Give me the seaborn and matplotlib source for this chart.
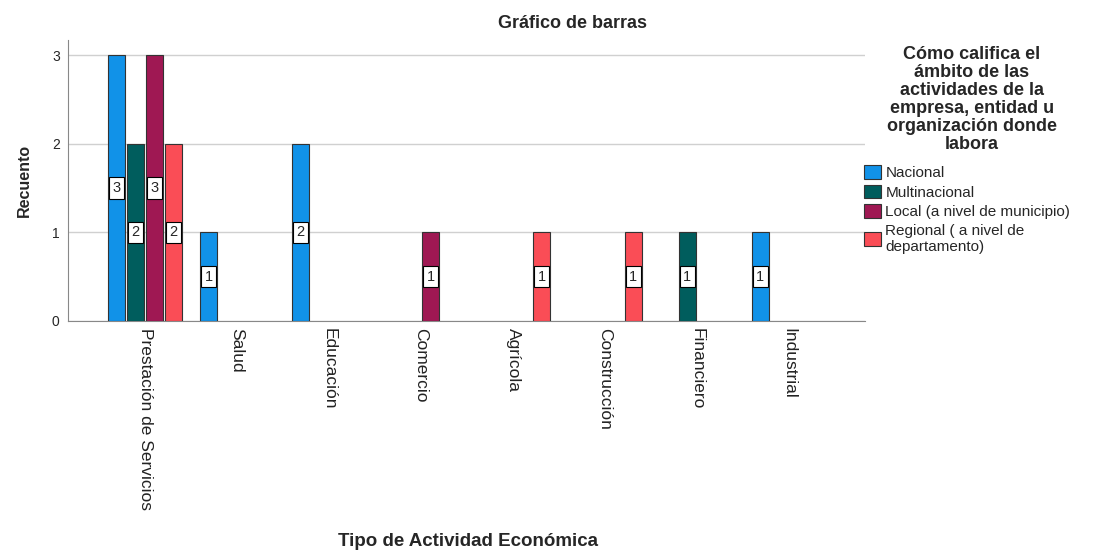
import pandas as pd
import seaborn as sns
import matplotlib.pyplot as plt

# categorias del eje x y niveles del grafico
categorias = ["Prestación de Servicios", "Salud", "Educación", "Comercio",
              "Agrícola", "Construcción", "Financiero", "Industrial"]
ambitos = ["Nacional", "Multinacional", "Local (a nivel de municipio)",
           "Regional ( a nivel de departamento)"]
etiquetas_leyenda = ["Nacional", "Multinacional", "Local (a nivel de municipio)",
                     "Regional ( a nivel de\ndepartamento)"]
colores = ["#1192e8", "#005d5d", "#9f1853", "#fa4d56"]

# recuentos
actividad = ["Prestación de Servicios", "Prestación de Servicios", "Prestación de Servicios",
             "Prestación de Servicios", "Salud", "Educación", "Comercio", "Agrícola",
             "Construcción", "Financiero", "Industrial"]
ambito = ["Nacional", "Multinacional", "Local (a nivel de municipio)",
          "Regional ( a nivel de departamento)", "Nacional", "Nacional",
          "Local (a nivel de municipio)", "Regional ( a nivel de departamento)",
          "Regional ( a nivel de departamento)", "Multinacional", "Nacional"]
recuento = [3, 2, 3, 2, 1, 2, 1, 1, 1, 1, 1]

df = pd.DataFrame({"Actividad": actividad, "Ambito": ambito, "Recuento": recuento})

sns.set_style("white")
plt.rcParams['font.family'] = ['Liberation Sans', 'DejaVu Sans']

fig = plt.figure(figsize=(11.04, 5.5), dpi=100)
ax = fig.add_axes([0.0616, 0.4164, 0.722, 0.5109])

sns.barplot(data=df, x="Actividad", y="Recuento", hue="Ambito", order=categorias,
            hue_order=ambitos, palette=colores, saturation=1, width=0.826, gap=0.1,
            edgecolor="#333333", linewidth=0.8, errorbar=None, ax=ax, zorder=3)

# etiquetas de valor en el centro de cada barra
for cont in ax.containers:
    ax.bar_label(cont, fmt="%d", label_type="center", fontsize=10.5, zorder=5,
                 bbox=dict(boxstyle="square,pad=0.25", fc="white", ec="black", lw=0.8))

ax.set_xlim(-0.84, 7.83)
ax.set_ylim(0, 3.17)
ax.set_yticks([0, 1, 2, 3])
ax.yaxis.grid(True, color="#d0d0d0", lw=1)
ax.set_axisbelow(True)
ax.tick_params(axis="y", length=0, labelsize=10, pad=6)
ax.tick_params(axis="x", length=0, pad=5)
ax.set_xticks(range(len(categorias)))
ax.set_xticklabels(categorias, rotation=-90, fontsize=12.5, color="#222222")
for s in ["top", "right"]:
    ax.spines[s].set_visible(False)
for s in ["left", "bottom"]:
    ax.spines[s].set_color("#888888")
ax.set_xlabel("")
ax.set_ylabel("Recuento", fontsize=11.5, fontweight="bold", labelpad=14)

handles, labels = ax.get_legend_handles_labels()
ax.get_legend().remove()
fig.legend(handles, etiquetas_leyenda, loc="upper left",
           bbox_to_anchor=(864 / 1104, 1 - 165 / 550), frameon=False,
           fontsize=11, handlelength=1.1, handleheight=1.0, handletextpad=0.3,
           labelspacing=0.3, borderaxespad=0, borderpad=0)

# titulo de la leyenda como texto aparte
fig.text(972 / 1104, 1 - 46 / 550,
         "Cómo califica el\námbito de las\nactividades de la\nempresa, entidad u\norganización donde\nlabora",
         ha="center", va="top", fontsize=13, fontweight="bold", linespacing=1.08,
         multialignment="center")

fig.text(573 / 1104, 1 - 24 / 550, "Gráfico de barras", ha="center", va="center",
         fontsize=13, fontweight="bold")
fig.text(468 / 1104, 1 - 541 / 550, "Tipo de Actividad Económica", ha="center", va="center",
         fontsize=13.5, fontweight="bold")

fig.savefig("out.png", dpi=100)
